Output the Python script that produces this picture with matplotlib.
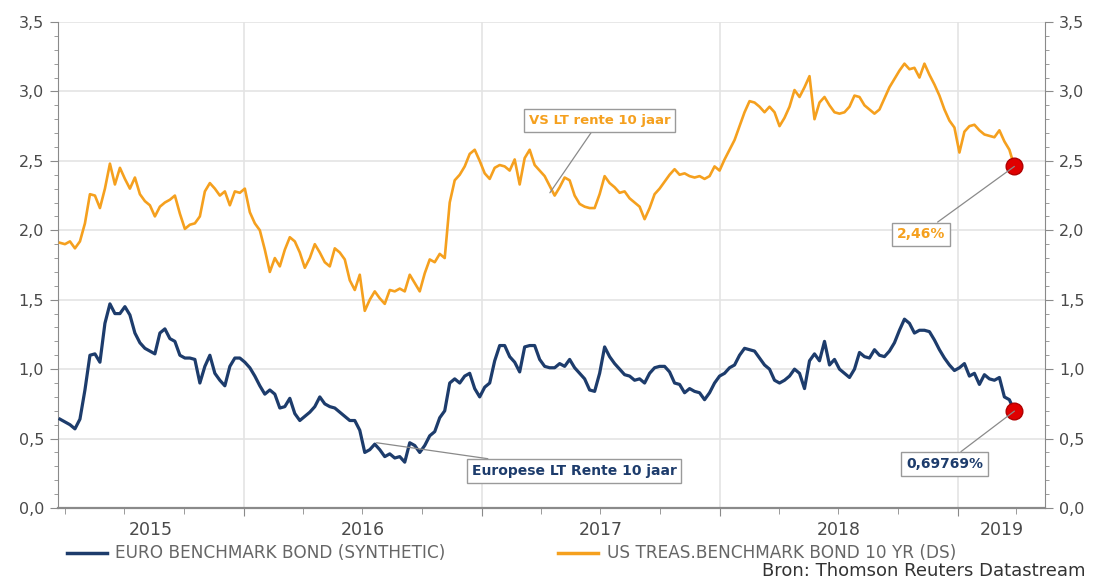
import matplotlib
matplotlib.use("Agg")
import matplotlib.pyplot as plt
import matplotlib.dates as mdates
from matplotlib.lines import Line2D
from matplotlib.ticker import MultipleLocator, FuncFormatter
import pandas as pd

# waarden (ongeveer wekelijks)
us_yield = [
    1.91, 1.90, 1.92, 1.87, 1.92, 2.05, 2.26, 2.25, 2.16, 2.30, 2.48, 2.33, 2.45, 2.37, 2.30, 2.38,
    2.26, 2.21, 2.18, 2.10, 2.17, 2.20, 2.22, 2.25, 2.12, 2.01, 2.04, 2.05, 2.10, 2.28, 2.34,
    2.30, 2.25, 2.28, 2.18, 2.28, 2.27, 2.30, 2.13, 2.05, 2.00, 1.86, 1.70, 1.80, 1.74, 1.86, 1.95,
    1.92, 1.84, 1.73, 1.80, 1.90, 1.84, 1.77, 1.74, 1.87, 1.84, 1.79, 1.64, 1.57, 1.68, 1.42, 1.50,
    1.56, 1.51, 1.47, 1.57, 1.56, 1.58, 1.56, 1.68, 1.62, 1.56, 1.69, 1.79, 1.77, 1.83, 1.80, 2.20,
    2.36, 2.40, 2.46, 2.55, 2.58, 2.50, 2.41, 2.37, 2.45, 2.47, 2.46, 2.43, 2.51, 2.33, 2.52, 2.58,
    2.47, 2.43, 2.39, 2.32, 2.25, 2.31, 2.38, 2.36, 2.25, 2.19, 2.17, 2.16, 2.16, 2.26, 2.39, 2.34,
    2.31, 2.27, 2.28, 2.23, 2.20, 2.17, 2.08, 2.16, 2.26, 2.30, 2.35, 2.40, 2.44, 2.40, 2.41, 2.39,
    2.38, 2.39, 2.37, 2.39, 2.46, 2.43, 2.51, 2.58, 2.65, 2.75, 2.85, 2.93, 2.92, 2.89, 2.85, 2.89,
    2.85, 2.75, 2.81, 2.89, 3.01, 2.96, 3.03, 3.11, 2.80, 2.92, 2.96, 2.90, 2.85, 2.84, 2.85, 2.89,
    2.97, 2.96, 2.90, 2.87, 2.84, 2.87, 2.95, 3.03, 3.09, 3.15, 3.20, 3.16, 3.17, 3.10, 3.20, 3.12,
    3.05, 2.97, 2.87, 2.79, 2.74, 2.56, 2.71, 2.75, 2.76, 2.72, 2.69, 2.68, 2.67, 2.72, 2.64, 2.58,
    2.46,
]

euro_yield = [
    0.64, 0.62, 0.60, 0.57, 0.64, 0.85, 1.10, 1.11, 1.05, 1.33, 1.47, 1.40, 1.40, 1.45, 1.39, 1.26,
    1.19, 1.15, 1.13, 1.11, 1.26, 1.29, 1.22, 1.20, 1.10, 1.08, 1.08, 1.07, 0.90, 1.02, 1.10,
    0.97, 0.92, 0.88, 1.02, 1.08, 1.08, 1.05, 1.01, 0.95, 0.88, 0.82, 0.85, 0.82, 0.72, 0.73, 0.79,
    0.68, 0.63, 0.66, 0.69, 0.73, 0.80, 0.75, 0.73, 0.72, 0.69, 0.66, 0.63, 0.63, 0.56, 0.40, 0.42,
    0.46, 0.42, 0.37, 0.39, 0.36, 0.37, 0.33, 0.47, 0.45, 0.40, 0.45, 0.52, 0.55, 0.65, 0.70, 0.90,
    0.93, 0.90, 0.95, 0.97, 0.86, 0.80, 0.87, 0.90, 1.06, 1.17, 1.17, 1.09, 1.05, 0.98, 1.16, 1.17,
    1.17, 1.07, 1.02, 1.01, 1.01, 1.04, 1.02, 1.07, 1.01, 0.97, 0.93, 0.85, 0.84, 0.97, 1.16, 1.09,
    1.04, 1.00, 0.96, 0.95, 0.92, 0.93, 0.90, 0.97, 1.01, 1.02, 1.02, 0.98, 0.90, 0.89, 0.83, 0.86,
    0.84, 0.83, 0.78, 0.83, 0.90, 0.95, 0.97, 1.01, 1.03, 1.10, 1.15, 1.14, 1.13, 1.08, 1.03, 1.00,
    0.92, 0.90, 0.92, 0.95, 1.00, 0.97, 0.86, 1.06, 1.11, 1.06, 1.20, 1.03, 1.07, 1.00, 0.97, 0.94,
    1.00, 1.12, 1.09, 1.08, 1.14, 1.10, 1.09, 1.13, 1.19, 1.28, 1.36, 1.33, 1.26, 1.28, 1.28, 1.27,
    1.21, 1.14, 1.08, 1.03, 0.99, 1.01, 1.04, 0.95, 0.97, 0.89, 0.96, 0.93, 0.92, 0.94, 0.80, 0.78,
    0.69769,
]

start_date = "2015-03-25"
end_date = "2019-03-29"
years = [2015, 2016, 2017, 2018, 2019]
us_label = "US TREAS.BENCHMARK BOND 10 YR (DS)"
euro_label = "EURO BENCHMARK BOND (SYNTHETIC)"

us_dates = pd.date_range(start_date, end_date, periods=len(us_yield))
euro_dates = pd.date_range(start_date, end_date, periods=len(euro_yield))

ORANGE = "#F5A01E"
NAVY = "#1D3C6C"
GRID = "#E4E4E4"
AXIS = "#8A8A8A"
TXT = "#4A4A4A"

plt.rcParams["font.family"] = ["DejaVu Sans"]

fig = plt.figure(figsize=(10.93, 5.82), dpi=100)
ax = fig.add_axes([58 / 1093, 1 - 508 / 582, (1045 - 58) / 1093, (508 - 22) / 582])

ax.plot(us_dates, us_yield, color=ORANGE, lw=1.9, zorder=3)
ax.plot(euro_dates, euro_yield, color=NAVY, lw=2.3, zorder=3)

# rode eindpunten
ax.plot(us_dates[-1], us_yield[-1], "o", ms=12, color="#E00000", mec="#B00000", zorder=5)
ax.plot(euro_dates[-1], euro_yield[-1], "o", ms=12, color="#E00000", mec="#B00000", zorder=5)

x_left = pd.Timestamp("2015-03-22")
x_right = pd.Timestamp("2019-05-15")
ax.set_xlim(x_left, x_right)
ax.set_ylim(0, 3.5)

# assen
ax.spines["top"].set_visible(False)
ax.spines["left"].set_color(AXIS)
ax.spines["right"].set_color(AXIS)
ax.spines["bottom"].set_color(AXIS)
ax.spines["bottom"].set_linewidth(1.6)

ax.yaxis.set_major_locator(MultipleLocator(0.5))
ax.yaxis.set_minor_locator(MultipleLocator(0.1))
ax.yaxis.set_major_formatter(FuncFormatter(lambda v, p: f"{v:.1f}".replace(".", ",")))
ax.tick_params(axis="y", which="both", left=True, right=True, labelleft=True, labelright=True,
               colors=AXIS, labelcolor=TXT, labelsize=11.5)
ax.tick_params(axis="y", which="major", length=6, pad=4)
ax.tick_params(axis="y", which="minor", length=3)

ax.xaxis.set_major_locator(mdates.YearLocator())
ax.xaxis.set_minor_locator(mdates.MonthLocator(bymonth=[4, 7, 10]))
ax.xaxis.set_major_formatter(plt.NullFormatter())
ax.tick_params(axis="x", which="major", length=6, colors=AXIS)
ax.tick_params(axis="x", which="minor", length=4, colors=AXIS)

ax.grid(True, which="major", color=GRID, lw=1.2, zorder=0)

# jaartallen midden in elk zichtbaar jaar
for y in years:
    a = max(pd.Timestamp(f"{y}-01-01"), x_left)
    b = min(pd.Timestamp(f"{y + 1}-01-01"), x_right)
    mid = a + (b - a) / 2
    ax.text(mid, -0.045, str(y), transform=ax.get_xaxis_transform(), ha="center", va="center",
            fontsize=12.5, color=TXT)

# annotaties
box = dict(boxstyle="square,pad=0.35", fc="white", ec="#9A9A9A", lw=1)
arrow = dict(arrowstyle="-", color="#8A8A8A", lw=0.9, shrinkA=0, shrinkB=0)
ax.annotate("VS LT rente 10 jaar", xy=(pd.Timestamp("2017-04-15"), 2.27),
            xytext=(pd.Timestamp("2017-06-30"), 2.79), ha="center", va="center",
            fontsize=9.5, fontweight="bold", color=ORANGE, bbox=box, arrowprops=arrow, zorder=6)
ax.annotate("Europese LT Rente 10 jaar", xy=(pd.Timestamp("2016-07-23"), 0.47),
            xytext=(pd.Timestamp("2017-05-22"), 0.266), ha="center", va="center",
            fontsize=10, fontweight="bold", color=NAVY, bbox=box, arrowprops=arrow, zorder=6)
ax.annotate("2,46%", xy=(us_dates[-1], us_yield[-1]),
            xytext=(pd.Timestamp("2018-11-05"), 1.97), ha="center", va="center",
            fontsize=10, fontweight="bold", color=ORANGE, bbox=box, arrowprops=arrow, zorder=6)
ax.annotate("0,69769%", xy=(euro_dates[-1], euro_yield[-1]),
            xytext=(pd.Timestamp("2018-12-12"), 0.317), ha="center", va="center",
            fontsize=10, fontweight="bold", color=NAVY, bbox=box, arrowprops=arrow, zorder=6)

# legenda onderaan
ly = 1 - 553 / 582
fig.add_artist(Line2D([67 / 1093, 107 / 1093], [ly, ly], color=NAVY, lw=2.5))
fig.text(115 / 1093, ly, euro_label, va="center", ha="left", fontsize=12.2, color="#666666")
fig.add_artist(Line2D([558 / 1093, 598 / 1093], [ly, ly], color=ORANGE, lw=2.5))
fig.text(607 / 1093, ly, us_label, va="center", ha="left", fontsize=12.2, color="#666666")
fig.text(1086 / 1093, 1 - 571 / 582, "Bron: Thomson Reuters Datastream", va="center", ha="right",
         fontsize=13, color="#333333")

fig.savefig("out.png", dpi=100)
